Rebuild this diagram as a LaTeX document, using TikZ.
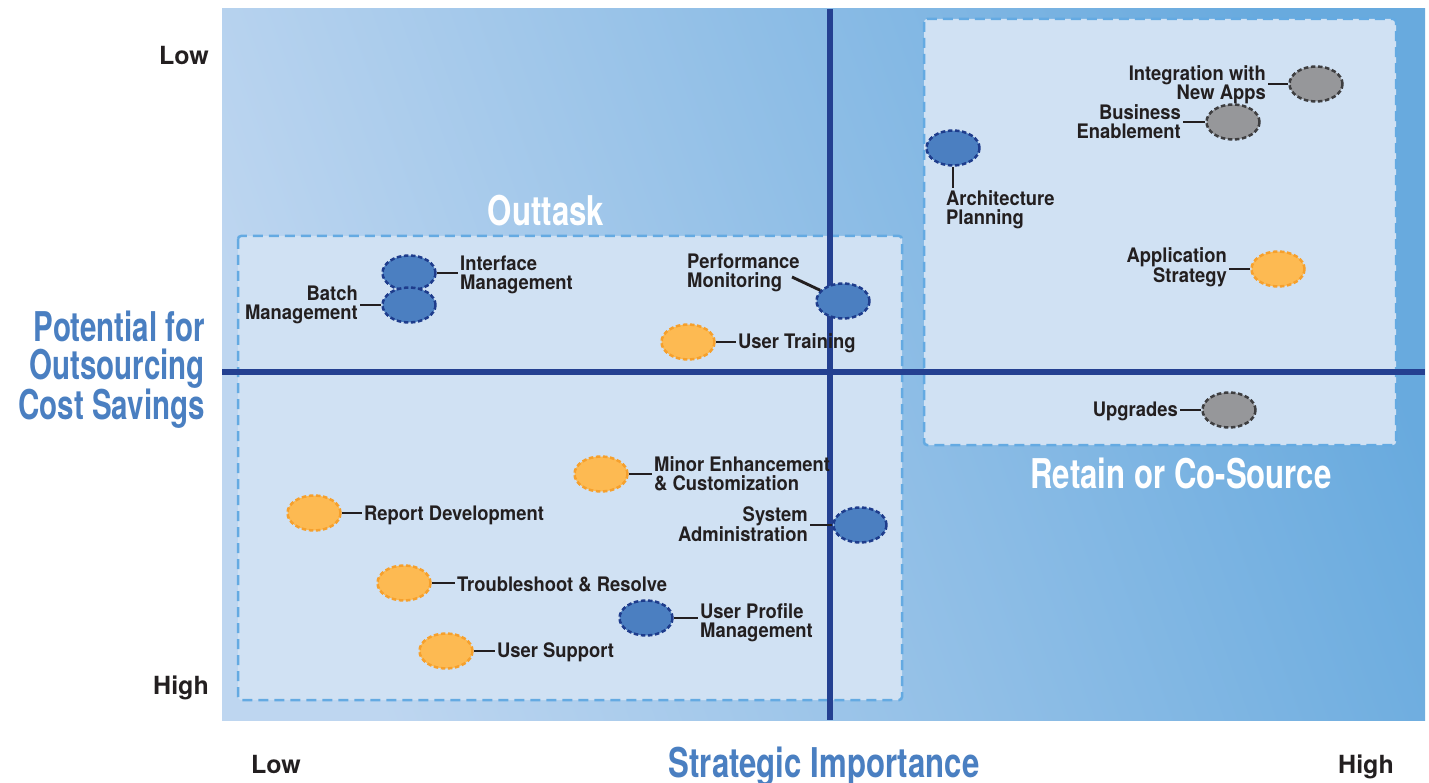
\documentclass[tikz,border=0pt]{standalone}
\usepackage{fontspec}
\setmainfont{TeX Gyre Heros}
\newfontfamily\lblfont[FakeStretch=0.92]{TeX Gyre Heros}
\newfontfamily\ttlfont[FakeStretch=0.76]{TeX Gyre Heros}
\newfontfamily\sidefont[FakeStretch=0.72]{TeX Gyre Heros}
\usetikzlibrary{shapes.geometric}

\definecolor{bgLight}{RGB}{190,214,240}
\definecolor{bgDark}{RGB}{104,170,222}
\definecolor{boxFill}{RGB}{208,225,243}
\definecolor{boxLine}{RGB}{100,170,226}
\definecolor{axisNavy}{RGB}{36,64,145}
\definecolor{ovBlue}{RGB}{75,127,193}
\definecolor{ovBlueLine}{RGB}{30,60,140}
\definecolor{ovOrange}{RGB}{253,186,82}
\definecolor{ovOrangeLine}{RGB}{246,160,44}
\definecolor{ovGray}{RGB}{150,151,154}
\definecolor{ovGrayLine}{RGB}{62,62,64}
\definecolor{ink}{RGB}{35,31,32}
\definecolor{titleBlue}{RGB}{74,127,193}

\tikzset{
  oval/.style={ellipse, minimum width=53pt, minimum height=35pt, inner sep=0pt,
    line width=2.5pt, dash pattern=on 4.5pt off 2.6pt},
  blueoval/.style={oval, fill=ovBlue, draw=ovBlueLine},
  orangeoval/.style={oval, fill=ovOrange, draw=ovOrangeLine},
  grayoval/.style={oval, fill=ovGray, draw=ovGrayLine},
  lbl/.style={font=\lblfont\bfseries\fontsize{20}{19}\selectfont, text=ink, inner sep=2pt},
  conn/.style={draw=ink, line width=2.9pt},
  zonebox/.style={fill=boxFill, draw=boxLine, line width=2.5pt,
    dash pattern=on 10pt off 6pt, rounded corners=3pt},
  axisline/.style={draw=axisNavy, line width=5.5pt},
  zonetitle/.style={font=\ttlfont\bfseries\fontsize{41}{41}\selectfont, text=white, anchor=base},
  axistitle/.style={font=\ttlfont\bfseries\fontsize{41}{37.5}\selectfont, text=titleBlue},
  sidetitle/.style={font=\sidefont\bfseries\fontsize{41}{37.5}\selectfont, text=titleBlue, inner sep=0pt},
  scalelbl/.style={font=\bfseries\fontsize{25}{28}\selectfont, text=ink, anchor=base},
}

\begin{document}
\begin{tikzpicture}[x=1pt, y=-1pt]
\useasboundingbox (0,0) rectangle (1429,783);

% plot area with diagonal gradient
\shade[top color=bgDark, bottom color=bgLight, shading angle=-70] (222,9) rectangle (1425,720);

% zone boxes
\draw[zonebox] (238,236) rectangle (902,700);
\draw[zonebox] (924,19) rectangle (1396,445);

% axes
\draw[axisline] (830,9) -- (830,720);
\draw[axisline] (222,372) -- (1425,372);

% zone titles
\node[zonetitle] (outtask) at (546,226) {Outtask};
\node[zonetitle] (retain) at (1181,488) {Retain or Co-Source};

% axis titles and scale labels
\node[axistitle, anchor=base] (xtitle) at (824,777) {Strategic Importance};
\node[sidetitle, anchor=east, align=right] (ytitle) at (205,370) {Potential for\\Outsourcing\\Cost Savings};
\node[scalelbl] (ylow) at (184,65) {Low};
\node[scalelbl] (yhigh) at (181,694) {High};
\node[scalelbl] (xlow) at (276,773) {Low};
\node[scalelbl] (xhigh) at (1366,773) {High};

% activities
\node[blueoval] (iface) at (409,273) {};
\node[blueoval] (batch) at (409,305) {};
\node[blueoval] (perf) at (843,301) {};
\node[orangeoval] (utrain) at (688,342) {};
\node[orangeoval] (minor) at (601,474) {};
\node[orangeoval] (report) at (314,513) {};
\node[blueoval] (sysadm) at (860,525) {};
\node[orangeoval] (trouble) at (404,583) {};
\node[blueoval] (uprof) at (646,618) {};
\node[orangeoval] (usupp) at (446,651) {};
\node[blueoval] (arch) at (953,148) {};
\node[grayoval] (integ) at (1316,84) {};
\node[grayoval] (busen) at (1233,122) {};
\node[orangeoval] (appstr) at (1278,269) {};
\node[grayoval] (upgr) at (1229,410) {};

% activity labels
\node[lbl, anchor=west, align=left] (ifaceL) at (458,275) {Interface\\Management};
\node[lbl, anchor=east, align=right] (batchL) at (360,305) {Batch\\Management};
\node[lbl, anchor=west, align=left] (perfL) at (685,273) {Performance\\Monitoring};
\node[lbl, anchor=west] (utrainL) at (736,343) {User Training};
\node[lbl, anchor=west, align=left] (minorL) at (652,474) {Minor Enhancement\\\& Customization};
\node[lbl, anchor=west] (reportL) at (362,515) {Report Development};
\node[lbl, anchor=east, align=right] (sysadmL) at (810,524) {System\\Administration};
\node[lbl, anchor=west] (troubleL) at (455,584) {Troubleshoot \& Resolve};
\node[lbl, anchor=west, align=left] (uprofL) at (698,623) {User Profile\\Management};
\node[lbl, anchor=west] (usuppL) at (495,652) {User Support};
\node[lbl, anchor=north west, align=left] (archL) at (944,188) {Architecture\\Planning};
\node[lbl, anchor=east, align=right] (integL) at (1268,85) {Integration with\\New Apps};
\node[lbl, anchor=east, align=right] (busenL) at (1183,122) {Business\\Enablement};
\node[lbl, anchor=east, align=right] (appstrL) at (1229,267) {Application\\Strategy};
\node[lbl, anchor=east] (upgrL) at (1180,411) {Upgrades};

% leader lines
\coordinate (perfEnd) at (792,277);
\draw[conn] (iface.east) -- (ifaceL.west |- iface);
\draw[conn] (batch.west) -- (batchL.east |- batch);
\draw[conn] (perfEnd) -- (perf);
\draw[conn] (utrain.east) -- (utrainL.west |- utrain);
\draw[conn] (minor.east) -- (minorL.west |- minor);
\draw[conn] (report.east) -- (reportL.west |- report);
\draw[conn] (sysadm.west) -- (sysadmL.east |- sysadm);
\draw[conn] (trouble.east) -- (troubleL.west |- trouble);
\draw[conn] (uprof.east) -- (uprofL.west |- uprof);
\draw[conn] (usupp.east) -- (usuppL.west |- usupp);
\draw[conn] (arch.south) -- (arch |- archL.north);
\draw[conn] (integ.west) -- (integL.east |- integ);
\draw[conn] (busen.west) -- (busenL.east |- busen);
\draw[conn] (appstr.west) -- (appstrL.east |- appstr);
\draw[conn] (upgr.west) -- (upgrL.east |- upgr);
\end{tikzpicture}
\end{document}
